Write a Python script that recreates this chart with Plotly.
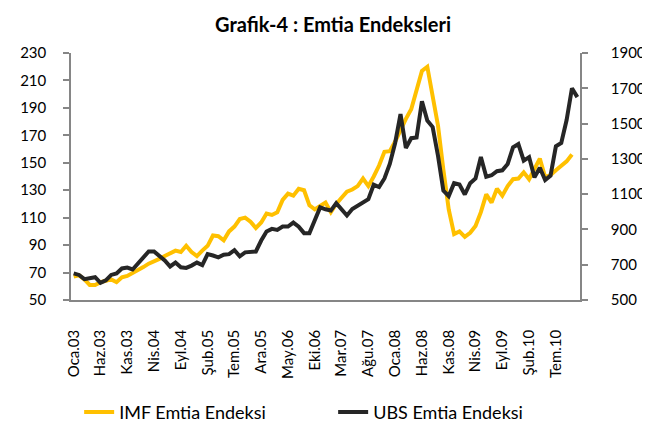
import plotly.graph_objects as go

# Monthly data: Jan 2003 (Oca.03) ... Nov 2010
month_names = ["Oca", "Şub", "Mar", "Nis", "May", "Haz", "Tem", "Ağu", "Eyl", "Eki", "Kas", "Ara"]
years = list(range(3, 11))
categories = [f"{m}.{y:02d}" for y in years for m in month_names][:95]

imf_index = [
    67, 68, 65, 61, 61, 63, 64, 65, 63, 66.5, 67.5, 69.5,
    72, 74, 76.5, 78, 80, 82, 84, 86, 85, 89.5, 85, 82,
    86, 89.5, 97, 96.5, 93.5, 100, 103.5, 109, 110, 107, 102.5, 106.5,
    113, 112, 114, 123, 127.5, 126, 131, 130, 119, 116, 118.5, 121,
    114, 120, 124.5, 129, 130.5, 133, 138.5, 133, 140, 148, 158, 158.5,
    165.5, 174, 182, 189, 203, 217, 220, 199, 177, 145, 116, 98,
    100, 96, 99, 104, 114, 127, 121, 131, 126, 133, 138, 138.5,
    143, 138, 146, 153, 139.5, 141, 144.5, 148, 151, 156,
]

ubs_index = [
    651, 642, 618, 622, 629, 597, 611, 642, 651, 679, 684, 673,
    706, 742, 775, 775, 752, 724, 690, 712, 685, 682, 695, 712,
    698, 760, 752, 742, 757, 760, 782, 748, 770, 772, 775, 837,
    888, 903, 897, 916, 916, 939, 916, 879, 879, 952, 1025, 1014,
    1007, 1049, 1016, 979, 1016, 1034, 1052, 1071, 1153, 1140, 1189, 1271,
    1390, 1554, 1362, 1417, 1421, 1627, 1517, 1480, 1317, 1120, 1089, 1162,
    1155, 1098, 1162, 1189, 1311, 1198, 1207, 1230, 1235, 1271, 1365, 1384,
    1290, 1310, 1195, 1250, 1180, 1205, 1371, 1390, 1520, 1700, 1650,
]

tick_labels = ["Oca.03", "Haz.03", "Kas.03", "Nis.04", "Eyl.04", "Şub.05", "Tem.05",
               "Ara.05", "May.06", "Eki.06", "Mar.07", "Ağu.07", "Oca.08", "Haz.08",
               "Kas.08", "Nis.09", "Eyl.09", "Şub.10", "Tem.10"]

left_ticks = list(range(50, 231, 20))
right_ticks = list(range(500, 1901, 200))

FONT = "Lato"
AXIS_COLOR = "#868686"
YELLOW = "#FFC000"
BLACK = "#262626"

n = len(categories)
xi = list(range(n))
label_pos = [categories.index(t) for t in tick_labels]
boundaries = [k - 0.5 for k in range(0, n + 1, 5)]

fig = go.Figure()
fig.add_trace(go.Scatter(
    x=xi[:len(imf_index)], y=imf_index, mode="lines", name="IMF Emtia Endeksi",
    line=dict(color=YELLOW, width=4), yaxis="y", xaxis="x",
))
fig.add_trace(go.Scatter(
    x=xi[:len(ubs_index)], y=ubs_index, mode="lines", name="UBS Emtia Endeksi",
    line=dict(color=BLACK, width=4), yaxis="y2", xaxis="x",
))

xrange = [-0.5, n - 0.5]
fig.update_layout(
    width=650, height=435,
    margin=dict(l=60, r=57, t=45, b=134),
    paper_bgcolor="white", plot_bgcolor="white",
    font=dict(family=FONT, size=15, color="#000000"),
    title=dict(text="<b>Grafik-4 : Emtia Endeksleri</b>", x=0.5, xanchor="center",
               y=0.962, yanchor="middle", font=dict(family=FONT, size=20, color="#000")),
    showlegend=True,
    legend=dict(orientation="h", x=0.016, xanchor="left", y=-0.38, yanchor="top",
                font=dict(family=FONT, size=18), entrywidth=209, entrywidthmode="pixels",
                bgcolor="rgba(0,0,0,0)"),
    xaxis=dict(range=xrange, tickmode="array", tickvals=label_pos, ticktext=tick_labels,
               tickangle=-90, ticks="", showline=True, linecolor=AXIS_COLOR, linewidth=1.5,
               showgrid=False, zeroline=False, ticklabelstandoff=22,
               tickfont=dict(family=FONT, size=15)),
    xaxis2=dict(range=xrange, overlaying="x", anchor="y", side="bottom",
                tickmode="array", tickvals=boundaries, showticklabels=False,
                ticks="outside", ticklen=5, tickwidth=1.5, tickcolor=AXIS_COLOR,
                showline=False, showgrid=False, zeroline=False),
    yaxis=dict(range=[50, 230], tickmode="array", tickvals=left_ticks,
               ticks="outside", ticklen=6, tickwidth=1.5, tickcolor=AXIS_COLOR,
               showline=True, linecolor=AXIS_COLOR, linewidth=1.5,
               showgrid=False, zeroline=False, ticklabelstandoff=14,
               tickfont=dict(family=FONT, size=15)),
    yaxis2=dict(range=[500, 1900], tickmode="array", tickvals=right_ticks,
                overlaying="y", side="right", anchor="x",
                ticks="outside", ticklen=6, tickwidth=1.5, tickcolor=AXIS_COLOR,
                showline=True, linecolor=AXIS_COLOR, linewidth=1.5,
                showgrid=False, zeroline=False, ticklabelstandoff=20,
                tickfont=dict(family=FONT, size=15)),
)

fig.write_html("out.html")
